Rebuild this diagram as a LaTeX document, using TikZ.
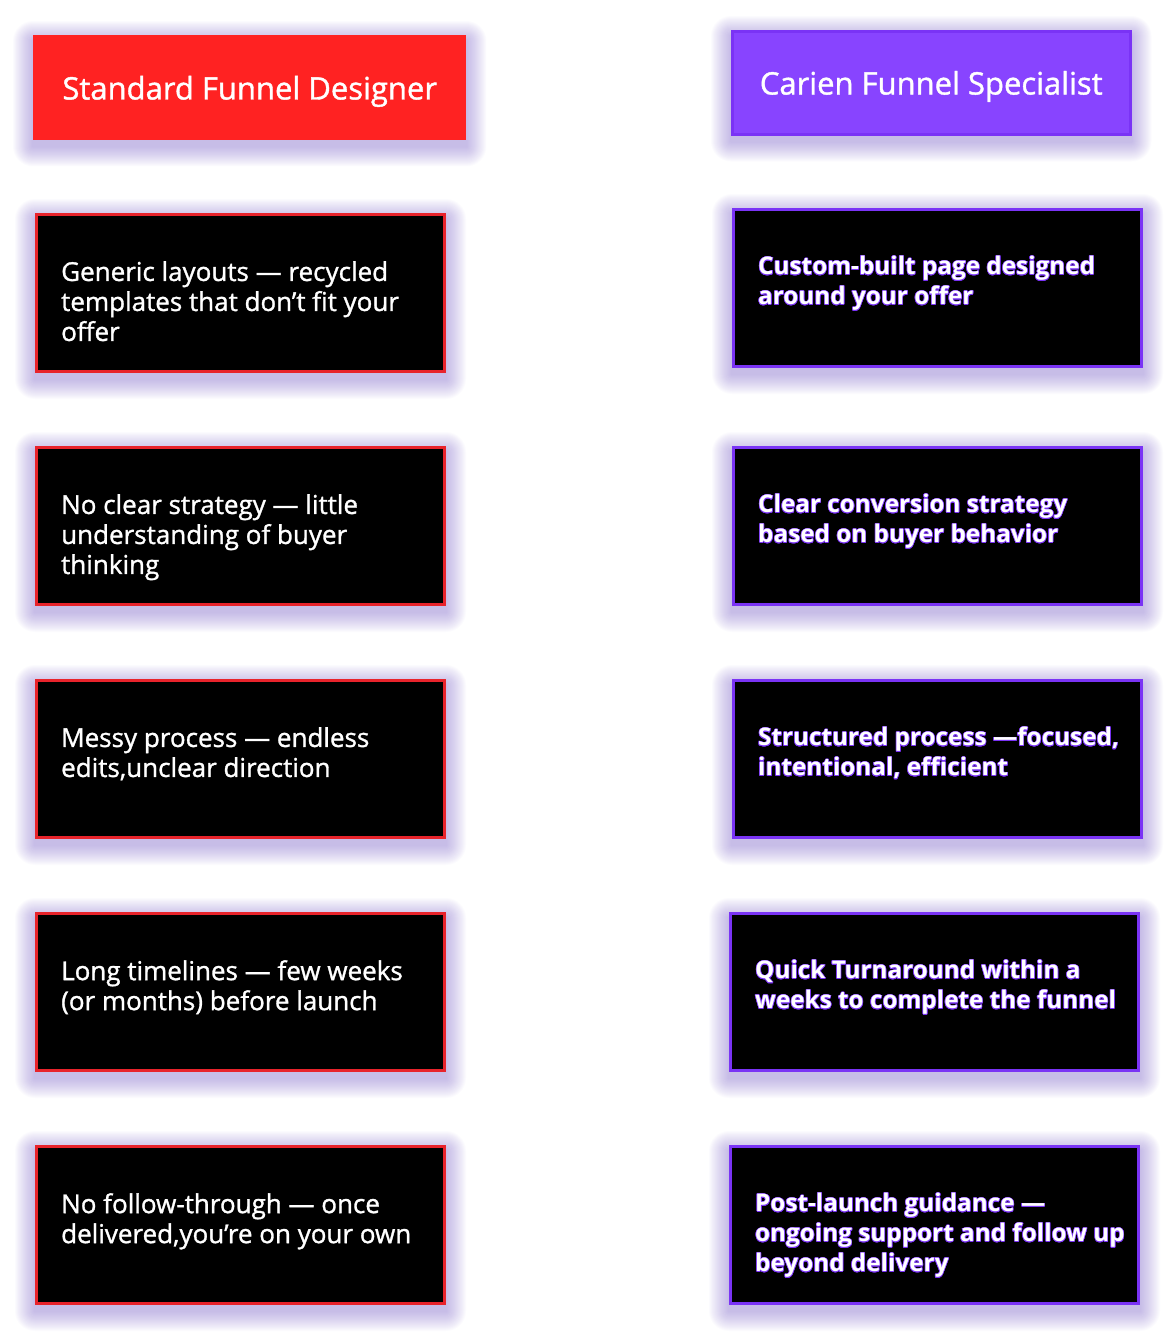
\documentclass[tikz,border=0pt]{standalone}
\usepackage{fontspec}
\setmainfont{Open Sans}
\newfontfamily\kozepes{Open Sans}[FakeBold=1.2]
\usepackage[copies]{contour}
\usetikzlibrary{positioning,backgrounds}
\definecolor{piros}{HTML}{FF2222}
\definecolor{pirosvonal}{HTML}{E8232B}
\definecolor{lila}{HTML}{8844FF}
\definecolor{lilavonal}{HTML}{7A33F5}
\definecolor{fenyszin}{HTML}{6A4FC0}
\contourlength{0.55pt}
\newcommand{\lilasor}[1]{\contour{lilavonal}{#1}}
\tikzset{
  feny/.style={fill=fenyszin,opacity=0.022},
  fejlec/.style={anchor=north west,inner sep=0pt,text=white,
                 font=\kozepes\fontsize{31}{37}\selectfont},
  fejbal/.style={fejlec,fill=piros,minimum width=433pt,minimum height=105pt},
  fejjobb/.style={fejlec,fill=lila,draw=lilavonal,line width=2.5pt,minimum width=398pt,minimum height=103pt},
  doboz/.style={fill=black,line width=3pt,anchor=north west,minimum width=408pt,minimum height=157pt},
  dobozbal/.style={doboz,draw=pirosvonal},
  dobozjobb/.style={doboz,draw=lilavonal},
  szoveg/.style={inner sep=0pt,text=white,align=left,font=\kozepes\fontsize{26}{30}\selectfont},
  szovjobb/.style={szoveg,font=\fontsize{24.3}{30}\selectfont\bfseries},
}
\begin{document}
\begin{tikzpicture}[x=1pt,y=-1pt]
  \useasboundingbox (0,0) rectangle (1175,1342);
  % fejlecek
  \node[fejbal,text depth=-3pt] (hb) at (33,35) {Standard Funnel Designer};
  \node[fejjobb,text depth=-3pt] (hj) at (731,30) {Carien Funnel Specialist};
  % bal oszlop
  \node[dobozbal] (b1) at (35,213) {};
  \node[dobozbal] (b2) at (35,446) {};
  \node[dobozbal] (b3) at (35,679) {};
  \node[dobozbal] (b4) at (35,912) {};
  \node[dobozbal] (b5) at (35,1145) {};
  % jobb oszlop
  \node[dobozjobb] (j1) at (732,208) {};
  \node[dobozjobb] (j2) at (732,446) {};
  \node[dobozjobb] (j3) at (732,679) {};
  \node[dobozjobb] (j4) at (729,912) {};
  \node[dobozjobb] (j5) at (729,1145) {};
  % lila fenyudvar a dobozok mogott
  \begin{scope}[on background layer]
    \foreach \n in {hb,hj,b1,b2,b3,b4,b5,j1,j2,j3,j4,j5}
      \foreach \k in {1,...,20}
        \fill[feny,rounded corners=\k pt] ([shift={(-\k,-\k+6)}]\n.north west) rectangle ([shift={(\k,\k+6)}]\n.south east);
  \end{scope}
  % szovegek
  \node[szoveg,below right=48pt and 26pt of b1.north west] (tb1)
    {Generic layouts — recycled\\templates that don’t fit your\\offer};
  \node[szoveg,below right=48pt and 26pt of b2.north west] (tb2)
    {No clear strategy — little\\understanding of buyer\\thinking};
  \node[szoveg,below right=48pt and 26pt of b3.north west] (tb3)
    {Messy process — endless\\edits,unclear direction};
  \node[szoveg,below right=48pt and 26pt of b4.north west] (tb4)
    {Long timelines — few weeks\\(or months) before launch};
  \node[szoveg,below right=48pt and 26pt of b5.north west] (tb5)
    {No follow-through — once\\delivered,you’re on your own};
  \node[szovjobb,below right=48pt and 26pt of j1.north west] (tj1)
    {\lilasor{Custom-built page designed}\\\lilasor{around your offer}};
  \node[szovjobb,below right=48pt and 26pt of j2.north west] (tj2)
    {\lilasor{Clear conversion strategy}\\\lilasor{based on buyer behavior}};
  \node[szovjobb,below right=48pt and 26pt of j3.north west] (tj3)
    {\lilasor{Structured process —focused,}\\\lilasor{intentional, efficient}};
  \node[szovjobb,below right=48pt and 26pt of j4.north west] (tj4)
    {\lilasor{Quick Turnaround within a}\\\lilasor{weeks to complete the funnel}};
  \node[szovjobb,below right=48pt and 26pt of j5.north west] (tj5)
    {\lilasor{Post-launch guidance —}\\\lilasor{ongoing support and follow up}\\\lilasor{beyond delivery}};
\end{tikzpicture}
\end{document}
